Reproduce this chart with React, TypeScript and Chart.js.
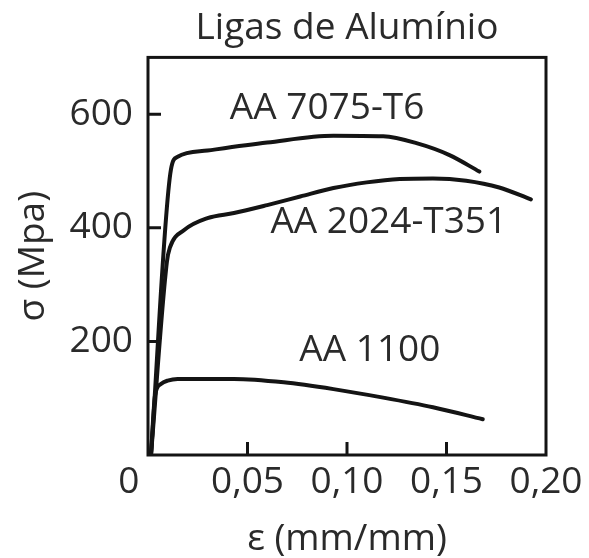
import React, { useEffect, useRef } from 'react';
import { Chart, registerables } from 'chart.js';

Chart.register(...registerables);

// ---- Data ----
const seriesNames = ['AA 7075-T6', 'AA 2024-T351', 'AA 1100'];

const strain7075 = [0.0015, 0.0115, 0.0149, 0.0299, 0.0599, 0.0932, 0.1182, 0.1349, 0.1515, 0.1665];
const stress7075 = [0, 502, 525, 536, 550, 562, 561, 549, 528, 499];

const strain2024 = [0.0015, 0.0095, 0.011, 0.0182, 0.0299, 0.0432, 0.0599, 0.0765, 0.0932, 0.1099, 0.1265, 0.1432, 0.1599, 0.1765, 0.1924];
const stress2024 = [0, 340, 365, 396, 417, 426, 440, 455, 470, 480, 486, 487, 483, 471, 450];

const strain1100 = [0.0015, 0.0035, 0.0065, 0.0099, 0.0149, 0.0432, 0.0682, 0.0932, 0.1182, 0.1432, 0.1682];
const stress1100 = [0, 104, 125, 131, 134, 134, 128, 116, 101, 84, 63];

const labelStrain = [0.09, 0.121, 0.1115];
const labelStress = [610, 409, 184];

const xTicks = [0, 0.05, 0.1, 0.15, 0.2];
const xTickLabels = ['0    ', '0,05', '0,10', '0,15', '0,20'];
const yTicks = [200, 400, 600];

const FONT = "'Open Sans', sans-serif";
const TEXT = '#2a2a2a';
const INK = '#141414';

function pts(xs: number[], ys: number[]) {
  return xs.map((x, i) => ({ x, y: ys[i] }));
}

const framePlugin = {
  id: 'frameAndLabels',
  afterDatasetsDraw(chart: any) {
    const { ctx, chartArea, scales } = chart;
    const xs = scales.x;
    const ys = scales.y;
    ctx.save();
    ctx.strokeStyle = INK;
    ctx.lineWidth = 3;
    ctx.strokeRect(chartArea.left, chartArea.top, chartArea.right - chartArea.left, chartArea.bottom - chartArea.top);
    // inward tick marks
    ctx.beginPath();
    yTicks.forEach((v) => {
      const py = ys.getPixelForValue(v);
      ctx.moveTo(chartArea.left, py);
      ctx.lineTo(chartArea.left + 13, py);
    });
    xTicks.forEach((v) => {
      if (v <= xs.min || v >= xs.max) return;
      const px = xs.getPixelForValue(v);
      ctx.moveTo(px, chartArea.bottom);
      ctx.lineTo(px, chartArea.bottom - 13);
    });
    ctx.stroke();
    // series labels
    ctx.fillStyle = TEXT;
    ctx.font = `37px ${FONT}`;
    ctx.textAlign = 'center';
    ctx.textBaseline = 'middle';
    seriesNames.forEach((name, i) => {
      ctx.fillText(name, xs.getPixelForValue(labelStrain[i]), ys.getPixelForValue(labelStress[i]));
    });
    ctx.restore();
  },
};

export default function App() {
  const ref = useRef<HTMLCanvasElement | null>(null);

  useEffect(() => {
    if (!ref.current) return;
    const ds = (name: string, xs: number[], ys: number[]) => ({
      label: name,
      data: pts(xs, ys),
      borderColor: INK,
      borderWidth: 4,
      pointRadius: 0,
      fill: false,
      cubicInterpolationMode: 'monotone' as const,
      borderCapStyle: 'round' as const,
      borderJoinStyle: 'round' as const,
    });
    const chart = new Chart(ref.current, {
      type: 'line',
      data: {
        datasets: [
          ds(seriesNames[0], strain7075, stress7075),
          ds(seriesNames[1], strain2024, stress2024),
          ds(seriesNames[2], strain1100, stress1100),
        ],
      },
      options: {
        responsive: false,
        animation: false,
        layout: { padding: { left: 0, right: 43, top: 0, bottom: 0 } },
        plugins: {
          legend: { display: false },
          tooltip: { enabled: false },
          title: {
            display: true,
            text: 'Ligas de Alumínio',
            fullSize: false,
            color: TEXT,
            font: { family: FONT, size: 37, weight: 'normal', lineHeight: 1.2 },
            padding: { top: 6, bottom: 7 },
          },
        },
        scales: {
          x: {
            type: 'linear',
            min: 0,
            max: 0.2,
            afterBuildTicks: (sc: any) => {
              sc.ticks = xTicks.map((v) => ({ value: v }));
            },
            afterFit: (sc: any) => {
              sc.height = 103;
            },
            ticks: {
              autoSkip: false,
              maxRotation: 0,
              padding: 5,
              color: TEXT,
              font: { family: FONT, size: 37 },
              callback: (v: any) => {
                const i = xTicks.findIndex((t) => Math.abs(t - Number(v)) < 1e-9);
                return i >= 0 ? xTickLabels[i] : '';
              },
            },
            grid: { display: false, drawTicks: false },
            border: { display: false },
            title: {
              display: true,
              text: 'ε (mm/mm)',
              color: TEXT,
              font: { family: FONT, size: 37, lineHeight: 1 },
              padding: { top: 0, bottom: 0 },
            },
          },
          y: {
            type: 'linear',
            min: 0,
            max: 700,
            afterBuildTicks: (sc: any) => {
              sc.ticks = yTicks.map((v) => ({ value: v }));
            },
            afterFit: (sc: any) => {
              sc.width = 148;
            },
            ticks: {
              padding: 15,
              color: TEXT,
              font: { family: FONT, size: 37 },
            },
            grid: { display: false, drawTicks: false },
            border: { display: false },
            title: {
              display: true,
              text: 'σ (Mpa)',
              color: TEXT,
              font: { family: FONT, size: 37, lineHeight: 1.1 },
              padding: { top: 13, bottom: 0 },
            },
          },
        },
      },
      plugins: [framePlugin],
    });
    return () => chart.destroy();
  }, []);

  return (
    <div style={{ position: 'fixed', left: 0, top: 0, width: 589, height: 558, background: '#fff' }}>
      <canvas ref={ref} width={589} height={558} style={{ display: 'block' }} />
    </div>
  );
}
